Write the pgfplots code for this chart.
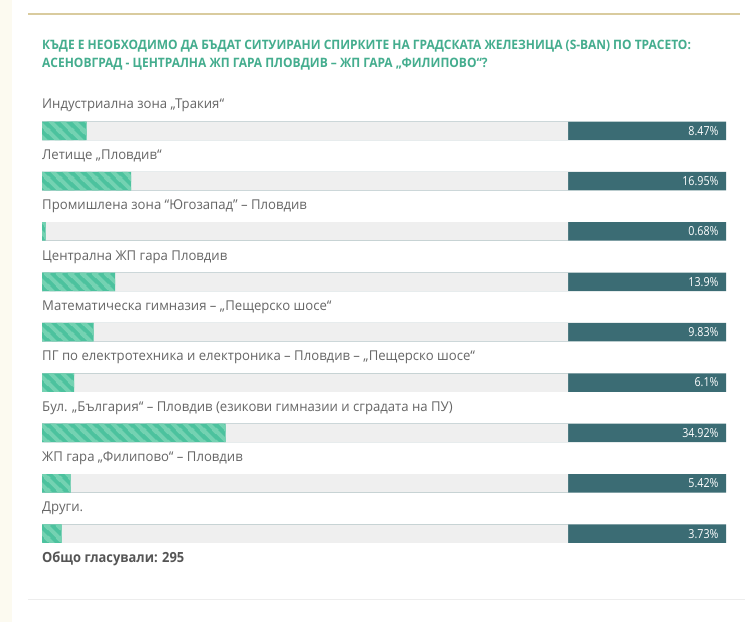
\documentclass[border=0pt]{standalone}
\usepackage{pgfplots}
\pgfplotsset{compat=1.18}
\usepackage{pgfplotstable}
\usepackage{fontspec}
\setmainfont{Open Sans}[FakeStretch=0.97]
\newfontfamily\cond{Open Sans}[FakeStretch=0.86]
\newfontfamily\headf{Open Sans}[FakeStretch=0.925]
\usetikzlibrary{patterns}

\definecolor{titlegreen}{HTML}{44AD8E}
\definecolor{darkteal}{HTML}{3B6C74}
\definecolor{track}{HTML}{EFEFEF}
\definecolor{barg}{HTML}{4CC29E}
\definecolor{stripe}{HTML}{74D2B2}
\definecolor{labelgray}{HTML}{666666}
\definecolor{totalgray}{HTML}{555555}
\definecolor{goldline}{HTML}{D9CB9E}
\definecolor{cream}{HTML}{FCFAF0}

% diagonal stripes for the green bars
\pgfdeclarepatternformonly{stripes}{\pgfpointorigin}{\pgfpoint{12bp}{12bp}}{\pgfpoint{12bp}{12bp}}{
  \pgfsetlinewidth{4.2bp}
  \pgfpathmoveto{\pgfpoint{-2bp}{14bp}}\pgfpathlineto{\pgfpoint{14bp}{-2bp}}
  \pgfpathmoveto{\pgfpoint{-2bp}{2bp}}\pgfpathlineto{\pgfpoint{2bp}{-2bp}}
  \pgfpathmoveto{\pgfpoint{10bp}{14bp}}\pgfpathlineto{\pgfpoint{14bp}{10bp}}
  \pgfusepath{stroke}}

\pgfplotstableread{
idx val full box
0 8.47 100 130
1 16.95 100 130
2 0.68 100 130
3 13.9 100 130
4 9.83 100 130
5 6.1 100 130
6 34.92 100 130
7 5.42 100 130
8 3.73 100 130
}\votes

\begin{document}
\begin{tikzpicture}
\fill[white] (0,0) rectangle (750bp,622bp);
\fill[cream] (0,0) rectangle (12bp,622bp);
\draw[goldline, line width=1.5bp] (28bp,608bp) -- (740bp,608bp);
\draw[black!7, line width=1bp] (28bp,22bp) -- (745bp,22bp);

\node[anchor=base west, inner sep=0pt, text=titlegreen, font=\headf\fontsize{13}{15}\selectfont\bfseries] at (42bp,572bp)
  {КЪДЕ Е НЕОБХОДИМО ДА БЪДАТ СИТУИРАНИ СПИРКИТЕ НА ГРАДСКАТА ЖЕЛЕЗНИЦА (S-BAN) ПО ТРАСЕТО:};
\node[anchor=base west, inner sep=0pt, text=titlegreen, font=\headf\fontsize{13}{15}\selectfont\bfseries] at (42bp,554bp)
  {АСЕНОВГРАД - ЦЕНТРАЛНА ЖП ГАРА ПЛОВДИВ – ЖП ГАРА „ФИЛИПОВО“?};

\begin{axis}[
  at={(42bp,516.4bp)}, anchor=north west,
  scale only axis, width=684bp, height=453.24bp,
  xmin=0, xmax=130, ymin=-0.5, ymax=8.5, y dir=reverse,
  hide axis, clip=false,
  xbar, bar width=18.5bp, bar shift=0pt,
  /pgf/number format/assume math mode=true,
]
\addplot[draw=none, fill=darkteal, point meta=explicit,
  nodes near coords={\pgfmathprintnumber{\pgfplotspointmeta}\%},
  every node near coord/.append style={anchor=east, xshift=-4bp, text=white, font=\cond\fontsize{12.5}{14}\selectfont}]
  table[x=box, y=idx, meta=val]{\votes};
\addplot[draw=none, fill=track] table[x=full, y=idx]{\votes};
\addplot[draw=none, fill=barg, postaction={pattern=stripes, pattern color=stripe}] table[x=val, y=idx]{\votes};

\tikzset{lab/.style={anchor=base west, inner sep=0pt, text=labelgray, font=\fontsize{13.6}{15}\selectfont}}
\node[lab] at (axis cs:0,-0.433) {Индустриална зона „Тракия“};
\node[lab] at (axis cs:0,0.567) {Летище „Пловдив“};
\node[lab] at (axis cs:0,1.567) {Промишлена зона “Югозапад” – Пловдив};
\node[lab] at (axis cs:0,2.567) {Централна ЖП гара Пловдив};
\node[lab] at (axis cs:0,3.567) {Математическа гимназия – „Пещерско шосе“};
\node[lab] at (axis cs:0,4.567) {ПГ по електротехника и електроника – Пловдив – „Пещерско шосе“};
\node[lab] at (axis cs:0,5.567) {Бул. „България“ – Пловдив (езикови гимназии и сградата на ПУ)};
\node[lab] at (axis cs:0,6.567) {ЖП гара „Филипово“ – Пловдив};
\node[lab] at (axis cs:0,7.567) {Други.};
\node[anchor=base west, inner sep=0pt, text=totalgray, font=\headf\fontsize{14}{16}\selectfont\bfseries] at (axis cs:0,8.567) {Общо гласували: 295};
\end{axis}
\end{tikzpicture}
\end{document}
